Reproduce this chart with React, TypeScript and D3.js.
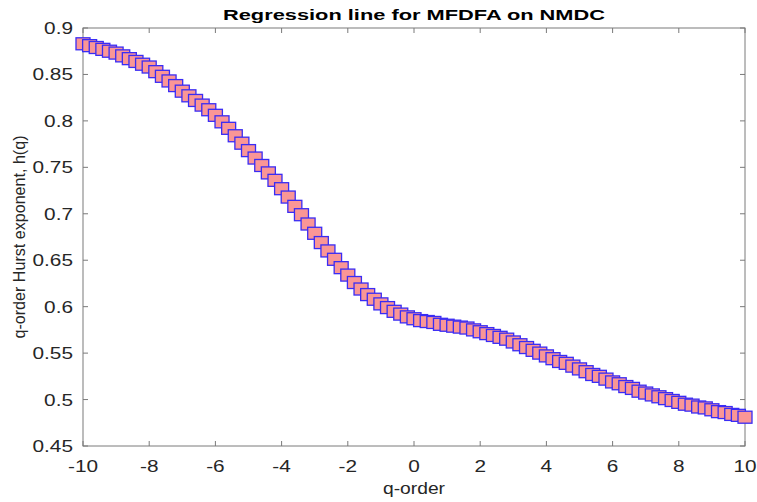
import React, { useEffect } from 'react';
import * as d3 from 'd3';

// q-order values (step 0.2) and the estimated generalized Hurst exponent h(q)
const qOrder = [
  -10, -9.8, -9.6, -9.4, -9.2, -9, -8.8, -8.6, -8.4, -8.2,
  -8, -7.8, -7.6, -7.4, -7.2, -7, -6.8, -6.6, -6.4, -6.2,
  -6, -5.8, -5.6, -5.4, -5.2, -5, -4.8, -4.6, -4.4, -4.2,
  -4, -3.8, -3.6, -3.4, -3.2, -3, -2.8, -2.6, -2.4, -2.2,
  -2, -1.8, -1.6, -1.4, -1.2, -1, -0.8, -0.6, -0.4, -0.2,
  0, 0.2, 0.4, 0.6, 0.8, 1, 1.2, 1.4, 1.6, 1.8,
  2, 2.2, 2.4, 2.6, 2.8, 3, 3.2, 3.4, 3.6, 3.8,
  4, 4.2, 4.4, 4.6, 4.8, 5, 5.2, 5.4, 5.6, 5.8,
  6, 6.2, 6.4, 6.6, 6.8, 7, 7.2, 7.4, 7.6, 7.8,
  8, 8.2, 8.4, 8.6, 8.8, 9, 9.2, 9.4, 9.6, 9.8,
  10,
];

const hurst = [
  0.883, 0.881, 0.879, 0.877, 0.875, 0.873, 0.870, 0.867, 0.864, 0.861,
  0.858, 0.853, 0.848, 0.843, 0.838, 0.832, 0.827, 0.822, 0.817, 0.812,
  0.806, 0.799, 0.792, 0.784, 0.776, 0.768, 0.760, 0.752, 0.744, 0.736,
  0.727, 0.718, 0.708, 0.699, 0.689, 0.679, 0.669, 0.660, 0.651, 0.642,
  0.634, 0.626, 0.619, 0.613, 0.608, 0.603, 0.599, 0.595, 0.592, 0.589,
  0.587, 0.585, 0.584, 0.583, 0.581, 0.580, 0.579, 0.578, 0.577, 0.575,
  0.573, 0.571, 0.569, 0.567, 0.565, 0.562, 0.559, 0.556, 0.553, 0.550,
  0.547, 0.544, 0.541, 0.539, 0.536, 0.533, 0.530, 0.527, 0.525, 0.522,
  0.519, 0.517, 0.514, 0.512, 0.509, 0.507, 0.505, 0.503, 0.501, 0.499,
  0.497, 0.495, 0.494, 0.492, 0.491, 0.489, 0.487, 0.486, 0.484, 0.483,
  0.481,
];

const xTicks = [-10, -8, -6, -4, -2, 0, 2, 4, 6, 8, 10];
const yTicks = [0.45, 0.5, 0.55, 0.6, 0.65, 0.7, 0.75, 0.8, 0.85, 0.9];

const W = 757;
const H = 502;
const margin = { top: 28, right: 12, bottom: 56, left: 83 };
const FONT = 'Liberation Sans, Arial, Helvetica, sans-serif';
const STRETCH = 1.3; // the reference is squeezed wider than tall
const AXIS = '#7a7a7a';
const TEXT = '#262626';

export default function App() {
  useEffect(() => {
    document.body.style.margin = '0';
  }, []);

  const x = d3.scaleLinear().domain([-10, 10]).range([margin.left, W - margin.right]);
  const y = d3.scaleLinear().domain([0.45, 0.9]).range([H - margin.bottom, margin.top]);
  const [x0, x1] = x.range();
  const [y0, y1] = y.range();
  const tick = 5;
  const mw = 14;
  const mh = 12;

  return (
    <svg width={W} height={H} style={{ display: 'block', background: '#fff' }}>
      {/* box */}
      <rect x={x0} y={y1} width={x1 - x0} height={y0 - y1} fill="none" stroke={AXIS} strokeWidth={1} />

      {xTicks.map(t => (
        <g key={'x' + t}>
          <line x1={x(t)} x2={x(t)} y1={y0} y2={y0 - tick} stroke={AXIS} />
          <line x1={x(t)} x2={x(t)} y1={y1} y2={y1 + tick} stroke={AXIS} />
          <text
            transform={`translate(${x(t)},${y0 + 26}) scale(${STRETCH},1)`}
            textAnchor="middle"
            fontFamily={FONT}
            fontSize={16}
            fill={TEXT}
          >
            {t}
          </text>
        </g>
      ))}

      {yTicks.map(t => (
        <g key={'y' + t}>
          <line x1={x0} x2={x0 + tick} y1={y(t)} y2={y(t)} stroke={AXIS} />
          <line x1={x1} x2={x1 - tick} y1={y(t)} y2={y(t)} stroke={AXIS} />
          <text
            transform={`translate(${x0 - 10},${y(t) + 6}) scale(${STRETCH},1)`}
            textAnchor="end"
            fontFamily={FONT}
            fontSize={16}
            fill={TEXT}
          >
            {d3.format('')(+t.toFixed(2))}
          </text>
        </g>
      ))}

      {/* markers */}
      {qOrder.map((q, i) => (
        <rect
          key={i}
          x={x(q) - mw / 2}
          y={y(hurst[i]) - mh / 2}
          width={mw}
          height={mh}
          fill="#fa9696"
          stroke="#3a2cf5"
          strokeWidth={1.3}
        />
      ))}

      <text
        x={(x0 + x1) / 2}
        y={20}
        textAnchor="middle"
        fontFamily={FONT}
        fontWeight="bold"
        fontSize={15}
        fill="#000"
        textLength={382}
        lengthAdjust="spacingAndGlyphs"
      >
        Regression line for MFDFA on NMDC
      </text>

      <text
        x={(x0 + x1) / 2}
        y={494}
        textAnchor="middle"
        fontFamily={FONT}
        fontSize={16}
        fill={TEXT}
        textLength={62}
        lengthAdjust="spacingAndGlyphs"
      >
        q-order
      </text>

      <text
        transform={`translate(25,${(y0 + y1) / 2}) rotate(-90)`}
        textAnchor="middle"
        fontFamily={FONT}
        fontSize={17}
        fill={TEXT}
        textLength={203}
        lengthAdjust="spacingAndGlyphs"
      >
        q-order Hurst exponent, h(q)
      </text>
    </svg>
  );
}
